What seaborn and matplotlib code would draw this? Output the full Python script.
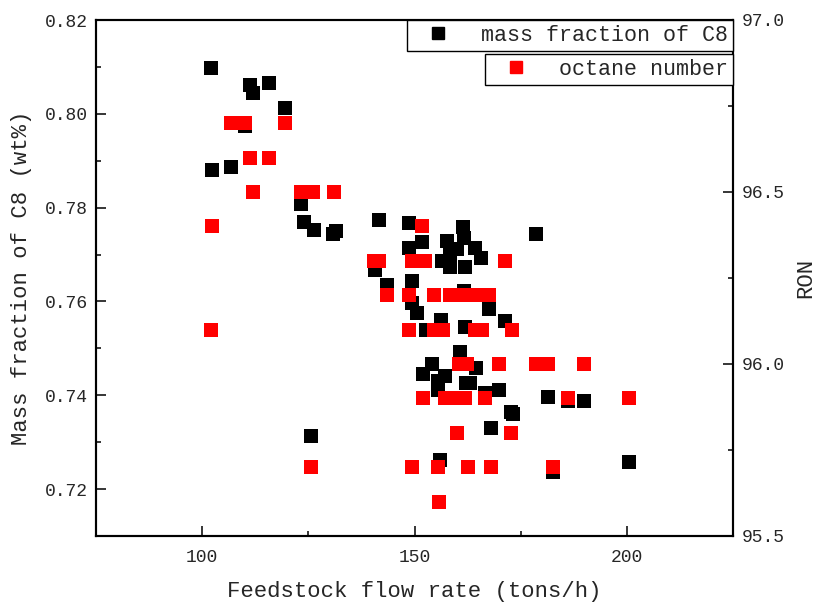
import matplotlib
matplotlib.use("Agg")
import matplotlib.pyplot as plt
import seaborn as sns
import pandas as pd
from matplotlib.ticker import MultipleLocator, FormatStrFormatter
from matplotlib.lines import Line2D

# ---- data ----
c8_flow = [102.0, 111.2, 111.9, 115.8, 119.4, 110.1, 102.4, 106.8, 123.2, 123.9,
           126.3, 130.7, 131.5, 125.6, 141.7, 148.8, 161.4, 161.6, 178.7, 151.8,
           148.7, 157.6, 160.0, 164.2, 165.7, 158.3, 156.5, 158.3, 162.0, 140.6,
           149.5, 143.6, 149.5, 150.6, 161.6, 167.5, 156.3, 171.4, 152.6, 162.0,
           160.6, 164.4, 154.2, 152.0, 157.1, 155.5, 155.5, 162.2, 163.1, 166.7,
           170.0, 181.4, 190.0, 186.2, 172.8, 173.2, 168.1, 156.0, 182.5, 200.5]
c8_mass = [0.8098, 0.8062, 0.8045, 0.8066, 0.8012, 0.7975, 0.7880, 0.7886, 0.7807, 0.7770,
           0.7753, 0.7743, 0.7750, 0.7314, 0.7774, 0.7767, 0.7759, 0.7736, 0.7743, 0.7726,
           0.7715, 0.7728, 0.7711, 0.7713, 0.7692, 0.7701, 0.7686, 0.7674, 0.7674, 0.7668,
           0.7643, 0.7636, 0.7596, 0.7576, 0.7622, 0.7583, 0.7560, 0.7558, 0.7539, 0.7546,
           0.7492, 0.7459, 0.7467, 0.7445, 0.7442, 0.7430, 0.7412, 0.7426, 0.7426, 0.7405,
           0.7412, 0.7396, 0.7387, 0.7387, 0.7365, 0.7360, 0.7330, 0.7261, 0.7237, 0.7258]

ron_flow = [106.8, 110.1, 119.4,
            111.2, 115.8,
            111.9, 123.3, 126.0, 131.1,
            102.4, 151.8,
            140.5, 141.7, 149.3, 152.5, 171.4,
            143.6, 148.8, 154.5, 158.3, 161.6, 164.2, 167.5,
            102.0, 148.7, 154.5, 156.7, 164.2, 166.0, 173.0,
            160.5, 162.3, 170.0, 178.7, 181.4, 190.0,
            152.0, 157.1, 158.7, 162.0, 166.7, 186.2, 200.5,
            160.1, 172.8,
            125.6, 149.5, 155.5, 162.7, 168.1, 182.5,
            155.7]
ron_value = [96.7, 96.7, 96.7,
             96.6, 96.6,
             96.5, 96.5, 96.5, 96.5,
             96.4, 96.4,
             96.3, 96.3, 96.3, 96.3, 96.3,
             96.2, 96.2, 96.2, 96.2, 96.2, 96.2, 96.2,
             96.1, 96.1, 96.1, 96.1, 96.1, 96.1, 96.1,
             96.0, 96.0, 96.0, 96.0, 96.0, 96.0,
             95.9, 95.9, 95.9, 95.9, 95.9, 95.9, 95.9,
             95.8, 95.8,
             95.7, 95.7, 95.7, 95.7, 95.7, 95.7,
             95.6]

x_label = "Feedstock flow rate (tons/h)"
y_label = "Mass fraction of C8 (wt%)"
y2_label = "RON"
legend1 = "mass fraction of C8"
legend2 = "octane number"

# ---- style ----
sns.set_style("ticks")
plt.rcParams["font.family"] = ["Liberation Mono", "DejaVu Sans Mono"]
plt.rcParams["axes.linewidth"] = 1.5

df1 = pd.DataFrame({"flow": c8_flow, "mass": c8_mass})
df2 = pd.DataFrame({"flow": ron_flow, "ron": ron_value})

fig = plt.figure(figsize=(8.19, 6.03), dpi=100)
ax = fig.add_axes([96 / 819, 1 - 536 / 603, (733 - 96) / 819, (536 - 20) / 603])
ax2 = ax.twinx()

sns.scatterplot(data=df1, x="flow", y="mass", ax=ax, color="black", marker="s",
                s=95, linewidth=0, legend=False, zorder=3)
sns.scatterplot(data=df2, x="flow", y="ron", ax=ax2, color="#ff0000", marker="s",
                s=95, linewidth=0, legend=False, zorder=3)

ax.set_xlim(75, 225)
ax.set_ylim(0.71, 0.82)
ax2.set_ylim(95.5, 97.0)

ax.xaxis.set_major_locator(MultipleLocator(50))
ax.xaxis.set_minor_locator(MultipleLocator(25))
ax.yaxis.set_major_locator(MultipleLocator(0.02))
ax.yaxis.set_minor_locator(MultipleLocator(0.01))
ax.yaxis.set_major_formatter(FormatStrFormatter("%.2f"))
ax2.yaxis.set_major_locator(MultipleLocator(0.5))
ax2.yaxis.set_minor_locator(MultipleLocator(0.25))
ax2.yaxis.set_major_formatter(FormatStrFormatter("%.1f"))

for a in (ax, ax2):
    a.tick_params(which="major", direction="in", length=7, width=1.3, labelsize=13, pad=6)
    a.tick_params(which="minor", direction="in", length=3.5, width=1.3)
    for sp in a.spines.values():
        sp.set_visible(True)
        sp.set_linewidth(1.5)
        sp.set_color("black")
ax.tick_params(axis="both", which="both", top=False, right=False)
ax.tick_params(axis="x", which="major", pad=9)
ax2.tick_params(axis="y", which="both", left=False, right=True)

ax.set_xlabel(x_label, fontsize=16, labelpad=11)
ax.set_ylabel(y_label, fontsize=16, labelpad=9)
ax2.set_ylabel(y2_label, fontsize=16, labelpad=8)

h1 = Line2D([], [], marker="s", color="black", linestyle="none", markersize=9)
h2 = Line2D([], [], marker="s", color="#ff0000", linestyle="none", markersize=9)
common = dict(loc="upper right", borderaxespad=0, fontsize=15.6, fancybox=False,
              framealpha=1, edgecolor="black", borderpad=0.22, handlelength=2.4,
              handletextpad=0.8)
leg1 = ax2.legend([h1], [legend1], bbox_to_anchor=(1, 1), **common)
leg1.get_frame().set_linewidth(1.0)
ax2.add_artist(leg1)
leg2 = ax2.legend([h2], [legend2], bbox_to_anchor=(1, 1 - 34 / 516), **common)
leg2.get_frame().set_linewidth(1.0)

fig.savefig("out.png", dpi=100)
